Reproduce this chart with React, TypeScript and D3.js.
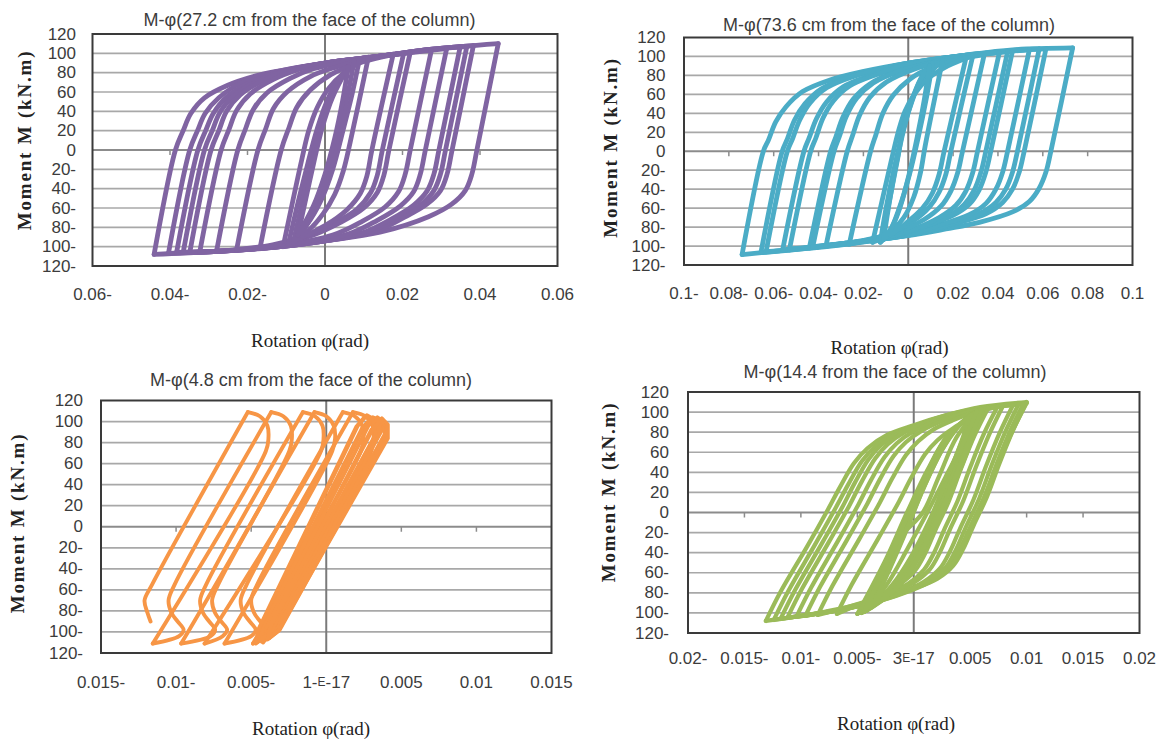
import React from "react";
import * as d3 from "d3";

type Pt = [number, number];

// ---------- shared axis data ----------
const momentTicks = [120, 100, 80, 60, 40, 20, 0, -20, -40, -60, -80, -100, -120];
const momentTickLabels = ["120", "100", "80", "60", "40", "20", "0", "20-", "40-", "60-", "80-", "100-", "120-"];

// ---------- panel 1 (27.2 cm) ----------
const purpleRotTicks = [-0.06, -0.04, -0.02, 0, 0.02, 0.04, 0.06];
const purpleRotLabels = ["0.06-", "0.04-", "0.02-", "0", "0.02", "0.04", "0.06"];
const purpleBranches: Pt[][] = [
  [[-0.0441,-108],[-0.0386,0],[-0.0366,20],[-0.0346,38],[-0.0311,54],[-0.0251,67],[-0.0185,76],[-0.0116,82],[0,90],[0.0142,97],[0.0271,104],[0.0447,110]],
  [[0.0447,110],[0.0392,0],[0.0379,-25],[0.0362,-42],[0.0327,-56],[0.0267,-69],[0.0142,-85],[0,-94],[-0.0116,-100],[-0.0288,-105],[-0.0441,-108]],
  [[-0.0404,-107],[-0.0349,0],[-0.0329,20],[-0.0309,38],[-0.0274,54],[-0.0214,70],[-0.0116,82],[0,90],[0.0142,97],[0.0271,104],[0.0383,108]],
  [[0.0383,108],[0.0328,0],[0.0315,-25],[0.0298,-42],[0.0263,-56],[0.0203,-70],[0.013,-84],[0,-94],[-0.0116,-100],[-0.0288,-105],[-0.0404,-107]],
  [[-0.0383,-106],[-0.0328,0],[-0.0308,20],[-0.0288,38],[-0.0253,55],[-0.0193,70],[-0.0116,81],[0,90],[0.0142,97],[0.0271,104],[0.0366,107]],
  [[0.0366,107],[0.0311,0],[0.0298,-25],[0.0281,-42],[0.0246,-57],[0.0186,-71],[0.011,-85],[0,-94],[-0.0116,-100],[-0.0288,-105],[-0.0383,-106]],
  [[-0.0366,-106],[-0.0311,0],[-0.0291,20],[-0.0271,39],[-0.0236,56],[-0.0176,71],[-0.011,81],[0,90],[0.0142,97],[0.0271,104],[0.0349,107]],
  [[0.0349,107],[0.0294,0],[0.0281,-25],[0.0264,-42],[0.0229,-57],[0.0169,-72],[0.0095,-86],[0,-94],[-0.0116,-100],[-0.0288,-105],[-0.0366,-106]],
  [[-0.0349,-106],[-0.0294,0],[-0.0274,20],[-0.0254,40],[-0.0219,57],[-0.0159,72],[-0.0095,82],[0,90],[0.0142,97],[0.0271,103],[0.0314,105]],
  [[0.0314,105],[0.0259,0],[0.0246,-25],[0.0229,-43],[0.0194,-58],[0.0134,-73],[0.006,-87],[-0.0116,-100],[-0.0288,-105],[-0.0349,-106]],
  [[-0.0323,-105],[-0.0268,0],[-0.0248,21],[-0.0228,41],[-0.0193,58],[-0.0133,73],[-0.007,83],[0,90],[0.0142,97],[0.0275,104]],
  [[0.0275,104],[0.022,0],[0.0207,-25],[0.019,-43],[0.0155,-59],[0.0095,-74],[0.002,-88],[-0.0116,-99],[-0.0288,-105],[-0.0323,-105]],
  [[-0.028,-105],[-0.0225,0],[-0.0205,22],[-0.0185,42],[-0.015,59],[-0.009,74],[-0.003,84],[0.006,92],[0.0142,97],[0.022,101]],
  [[0.022,101],[0.0165,0],[0.0152,-26],[0.0135,-44],[0.01,-60],[0.004,-75],[-0.003,-88],[-0.0116,-98],[-0.022,-103],[-0.028,-105]],
  [[-0.0228,-103],[-0.0173,0],[-0.0153,22],[-0.0133,43],[-0.0098,60],[-0.0038,76],[0.003,86],[0.0115,95],[0.0203,100]],
  [[0.0203,100],[0.0148,0],[0.0135,-26],[0.0118,-44],[0.0083,-61],[0.0023,-76],[-0.005,-89],[-0.0135,-98],[-0.0228,-103]],
  [[-0.0168,-102],[-0.0113,0],[-0.0093,23],[-0.0073,44],[-0.0038,62],[0.0015,78],[0.008,89],[0.0176,99]],
  [[0.0176,99],[0.0121,0],[0.0108,-27],[0.0091,-45],[0.0056,-62],[0.0001,-78],[-0.0065,-91],[-0.0168,-102]],
  [[-0.0108,-100],[-0.006,-10],[-0.0042,20],[-0.002,44],[0.001,64],[0.005,80],[0.0112,96]],
  [[0.0112,96],[0.0065,8],[0.0047,-22],[0.0025,-46],[-0.0005,-66],[-0.0045,-84],[-0.0108,-100]],
  [[-0.0095,-98],[-0.007,-55],[-0.0045,-15],[-0.002,22],[0.001,55],[0.0045,78],[0.0089,94]],
  [[0.0089,94],[0.007,58],[0.0045,18],[0.002,-20],[-0.001,-52],[-0.0048,-78],[-0.0095,-98]],
  [[-0.0082,-96],[-0.0062,-60],[-0.004,-22],[-0.0015,18],[0.0012,52],[0.004,75],[0.0075,92]],
  [[0.0075,92],[0.006,60],[0.0038,22],[0.0015,-16],[-0.0015,-50],[-0.0045,-76],[-0.0082,-96]],
  [[-0.007,-88],[-0.0052,-55],[-0.003,-15],[-0.0008,22],[0.002,55],[0.006,86]],
  [[0.006,86],[0.0045,50],[0.0025,12],[0,-25],[-0.003,-58],[-0.007,-88]],
];

// ---------- panel 2 (73.6 cm) ----------
const tealRotTicks = [-0.1, -0.08, -0.06, -0.04, -0.02, 0, 0.02, 0.04, 0.06, 0.08, 0.1];
const tealRotLabels = ["0.1-", "0.08-", "0.06-", "0.04-", "0.02-", "0", "0.02", "0.04", "0.06", "0.08", "0.1"];
const tealBranches: Pt[][] = [
  [[-0.0741,-109],[-0.0646,0],[-0.0623,12],[-0.0591,31],[-0.0545,47],[-0.0471,63],[-0.0352,75],[-0.0204,84],[0,93],[0.0242,101],[0.0465,107],[0.0733,109]],
  [[0.0733,109],[0.0636,0],[0.0614,-22],[0.0584,-39],[0.054,-53],[0.0465,-64],[0.0317,-75],[0.0168,-82],[0,-89],[-0.0278,-97],[-0.05,-103],[-0.0741,-109]],
  [[-0.0657,-107],[-0.0562,0],[-0.0539,13],[-0.0507,33],[-0.0461,50],[-0.0387,66],[-0.0267,78],[-0.012,87],[0,93],[0.0242,101],[0.0465,106],[0.0614,108]],
  [[0.0614,108],[0.0517,0],[0.0495,-22],[0.0465,-40],[0.0421,-54],[0.0346,-66],[0.0198,-77],[0.006,-86],[-0.015,-94],[-0.04,-101],[-0.0657,-107]],
  [[-0.0634,-106],[-0.0539,0],[-0.0516,13],[-0.0484,33],[-0.0438,51],[-0.0364,67],[-0.0244,79],[-0.011,87],[0,93],[0.0242,101],[0.045,106],[0.0584,108]],
  [[0.0584,108],[0.0487,0],[0.0465,-22],[0.0435,-40],[0.0391,-54],[0.0316,-66],[0.0168,-78],[0.003,-87],[-0.018,-95],[-0.042,-102],[-0.0634,-106]],
  [[-0.056,-104],[-0.0465,0],[-0.0442,14],[-0.041,34],[-0.0364,52],[-0.029,68],[-0.017,80],[-0.005,89],[0.01,96],[0.0242,101],[0.054,107]],
  [[0.054,107],[0.0443,0],[0.0421,-22],[0.0391,-40],[0.0347,-55],[0.0272,-67],[0.0124,-79],[-0.002,-89],[-0.0278,-97],[-0.056,-104]],
  [[-0.053,-104],[-0.0435,0],[-0.0412,14],[-0.038,35],[-0.0334,53],[-0.026,69],[-0.014,81],[-0.002,90],[0.012,97],[0.03,102],[0.0465,106]],
  [[0.0465,106],[0.0368,0],[0.0346,-22],[0.0316,-41],[0.0272,-56],[0.0197,-68],[0.0049,-81],[-0.01,-91],[-0.03,-98],[-0.053,-104]],
  [[-0.0441,-102],[-0.0346,0],[-0.0323,15],[-0.0291,36],[-0.0245,55],[-0.0171,71],[-0.0051,84],[0.006,91],[0.02,99],[0.0443,105]],
  [[0.0443,105],[0.0346,0],[0.0324,-22],[0.0294,-41],[0.025,-56],[0.0175,-69],[0.0027,-83],[-0.012,-92],[-0.028,-97],[-0.0441,-102]],
  [[-0.0426,-101],[-0.0331,0],[-0.0308,15],[-0.0276,37],[-0.023,56],[-0.0156,72],[-0.0036,85],[0.008,92],[0.022,99],[0.0406,104]],
  [[0.0406,104],[0.0309,0],[0.0287,-23],[0.0257,-42],[0.0213,-57],[0.0138,-70],[-0.001,-85],[-0.015,-93],[-0.0426,-101]],
  [[-0.0367,-100],[-0.0272,0],[-0.0249,16],[-0.0217,38],[-0.0171,57],[-0.0097,73],[0.002,86],[0.014,94],[0.0339,102]],
  [[0.0339,102],[0.0242,0],[0.022,-23],[0.019,-42],[0.0146,-58],[0.0071,-72],[-0.006,-86],[-0.02,-94],[-0.0367,-100]],
  [[-0.0263,-98],[-0.0168,0],[-0.0145,17],[-0.0113,40],[-0.0067,59],[0.0007,76],[0.01,88],[0.0287,100]],
  [[0.0287,100],[0.019,0],[0.0168,-24],[0.0138,-43],[0.0094,-59],[0.0019,-74],[-0.01,-88],[-0.0263,-98]],
  [[-0.0159,-96],[-0.0066,0],[-0.0045,20],[-0.0015,42],[0.003,61],[0.009,77],[0.016,88],[0.0257,98]],
  [[0.0257,98],[0.016,0],[0.0138,-24],[0.0108,-44],[0.0064,-60],[-0.001,-76],[-0.008,-88],[-0.0159,-96]],
  [[-0.012,-95],[-0.0045,-5],[-0.0025,22],[0.0005,48],[0.005,70],[0.0153,96]],
  [[0.0153,96],[0.0075,5],[0.0055,-22],[0.0025,-48],[-0.002,-70],[-0.012,-95]],
  [[-0.0125,-96],[-0.0095,-55],[-0.006,-15],[-0.002,25],[0.002,55],[0.006,78],[0.0108,93]],
  [[0.0108,93],[0.008,55],[0.0045,15],[0.0005,-25],[-0.004,-60],[-0.008,-83],[-0.0125,-96]],
  [[-0.011,-93],[-0.0085,-55],[-0.0055,-15],[-0.0018,25],[0.0018,55],[0.0055,76],[0.0095,90]],
  [[0.0095,90],[0.0072,55],[0.004,15],[0.0003,-25],[-0.0035,-58],[-0.0072,-80],[-0.011,-93]],
];

// ---------- panel 3 (4.8 cm) ----------
const orangeRotTicks = [-0.015, -0.01, -0.005, 0, 0.005, 0.01, 0.015];
const orangeRotLabels = ["0.015-", "0.01-", "0.005-", "1-E-17", "0.005", "0.01", "0.015"];
const orangeBranches: Pt[][] = [
  [[-0.0042,-110],[0.003,72],[0.00315,84],[0.0031,96],[0.0026,105],[0.00178,109]],
  [[0.00178,109],[-0.0046,-55],[-0.005,-70],[-0.0048,-82],[-0.0044,-90],[-0.004,-98],[-0.0043,-104],[-0.00488,-111]],
  [[-0.00488,-111],[0.0023,72],[0.00248,84],[0.0024,96],[0.0019,105],[0.00111,109]],
  [[0.00111,109],[-0.0053,-55],[-0.0057,-70],[-0.0055,-82],[-0.0051,-90],[-0.0047,-98],[-0.005,-104],[-0.00677,-111]],
  [[-0.00677,-111],[0.0004,72],[0.00059,84],[0.0005,96],[0,105],[-0.00078,109]],
  [[-0.00078,109],[-0.0072,-55],[-0.0076,-70],[-0.0074,-82],[-0.007,-90],[-0.0066,-98],[-0.0069,-104],[-0.0081,-111]],
  [[-0.0081,-111],[-0.00035,72],[-0.00018,84],[-0.00025,96],[-0.00075,105],[-0.00155,109]],
  [[-0.00155,109],[-0.008,-55],[-0.0084,-70],[-0.0082,-82],[-0.0078,-90],[-0.0074,-98],[-0.0077,-104],[-0.00966,-111]],
  [[-0.00966,-111],[-0.00246,72],[-0.00229,84],[-0.00236,96],[-0.00286,105],[-0.00366,109]],
  [[-0.00366,109],[-0.0101,-55],[-0.0105,-70],[-0.0103,-82],[-0.0099,-90],[-0.0095,-98],[-0.0098,-104],[-0.01155,-111]],
  [[-0.01155,-111],[-0.00402,72],[-0.00385,84],[-0.00392,96],[-0.00442,105],[-0.00522,109]],
  [[-0.00522,109],[-0.0116,-55],[-0.0121,-70],[-0.0119,-82],[-0.0117,-90]],
];
const orangeCoreLoops: Pt[][] = [
  [[-0.0046,-110],[-0.0039,-102],[0.0034,90],[0.0032,102],[0.0027,106],[0.0021,96],[-0.0044,-96],[-0.0046,-110]],
  [[-0.0043,-109],[-0.0036,-101],[0.0037,92],[0.0036,101],[0.0031,104],[0.0025,95],[-0.0041,-95],[-0.0043,-109]],
  [[-0.0041,-108],[-0.0034,-100],[0.0039,88],[0.0038,100],[0.0034,104],[0.0028,96],[-0.0039,-94],[-0.0041,-108]],
  [[-0.0038,-106],[-0.0031,-98],[0.004,85],[0.004,96],[0.0036,101],[0.003,92],[-0.0036,-92],[-0.0038,-106]],
  [[-0.0044,-108],[-0.0037,-100],[0.0036,90],[0.0035,100],[0.003,103],[0.0024,94],[-0.0042,-94],[-0.0044,-108]],
  [[-0.0047,-111],[-0.004,-103],[0.0033,88],[0.0031,101],[0.0026,105],[0.002,95],[-0.0045,-97],[-0.0047,-111]],
  [[-0.0039,-107],[-0.0032,-99],[0.0041,84],[0.0041,97],[0.0037,103],[0.0031,93],[-0.0037,-93],[-0.0039,-107]],
];

// ---------- panel 4 (14.4) ----------
const greenRotTicks = [-0.02, -0.015, -0.01, -0.005, 0, 0.005, 0.01, 0.015, 0.02];
const greenRotLabels = ["0.02-", "0.015-", "0.01-", "0.005-", "3E-17", "0.005", "0.01", "0.015", "0.02"];
const greenBranches: Pt[][] = [
  [[-0.0131,-108],[-0.0118,-79],[-0.0094,-33],[-0.0076,3],[-0.0065,26],[-0.0053,49],[-0.0041,64],[-0.0024,77],[0,87],[0.0029,97],[0.0059,105],[0.01,110]],
  [[0.01,110],[0.0088,82],[0.0076,49],[0.0065,16],[0.0053,-13],[0.0044,-36],[0.0035,-53],[0.0021,-66],[0,-76],[-0.0029,-87],[-0.0065,-97],[-0.01,-103],[-0.0131,-108]],
  [[-0.0124,-107],[-0.0111,-78],[-0.0087,-31],[-0.0069,5],[-0.0058,28],[-0.0046,51],[-0.0034,66],[-0.0018,78],[0.0005,88],[0.0031,97],[0.0059,104],[0.01,109]],
  [[0.01,109],[0.0087,80],[0.0074,47],[0.0062,14],[0.005,-15],[0.0041,-37],[0.0031,-54],[0.0017,-67],[-0.0004,-77],[-0.0031,-87],[-0.0066,-97],[-0.01,-103],[-0.0124,-107]],
  [[-0.0118,-106],[-0.0105,-77],[-0.0081,-30],[-0.0063,6],[-0.0052,30],[-0.004,53],[-0.0029,67],[-0.0013,79],[0.0008,89],[0.0033,98],[0.006,104],[0.0097,108]],
  [[0.0097,108],[0.0085,80],[0.0073,47],[0.0062,14],[0.005,-15],[0.0041,-37],[0.0032,-54],[0.0018,-67],[-0.0003,-78],[-0.003,-88],[-0.0066,-97],[-0.0095,-102],[-0.0118,-106]],
  [[-0.0112,-105],[-0.0099,-76],[-0.0075,-29],[-0.0057,7],[-0.0046,31],[-0.0034,54],[-0.0023,68],[-0.0008,80],[0.0012,90],[0.0035,98],[0.0062,104],[0.0093,108]],
  [[0.0093,108],[0.0081,80],[0.0069,47],[0.0058,14],[0.0046,-15],[0.0037,-38],[0.0028,-55],[0.0014,-68],[-0.0007,-79],[-0.0033,-89],[-0.0066,-97],[-0.0112,-105]],
  [[-0.0104,-104],[-0.0091,-75],[-0.0067,-28],[-0.0049,8],[-0.0038,32],[-0.0026,55],[-0.0015,69],[0,81],[0.0018,90],[0.004,98],[0.0064,104],[0.0088,107]],
  [[0.0088,107],[0.0076,79],[0.0064,46],[0.0053,13],[0.0041,-16],[0.0032,-39],[0.0023,-56],[0.0009,-69],[-0.0012,-80],[-0.0038,-90],[-0.007,-98],[-0.0104,-104]],
  [[-0.0096,-103],[-0.0083,-74],[-0.0059,-27],[-0.0041,9],[-0.003,33],[-0.0018,56],[-0.0007,70],[0.0008,82],[0.0025,91],[0.0045,99],[0.0079,106]],
  [[0.0079,106],[0.0067,78],[0.0055,45],[0.0044,12],[0.0032,-17],[0.0023,-40],[0.0014,-57],[0,-70],[-0.0021,-81],[-0.0047,-91],[-0.0075,-98],[-0.0096,-103]],
  [[-0.0085,-102],[-0.0072,-73],[-0.0048,-26],[-0.003,10],[-0.0019,34],[-0.0007,57],[0.0004,71],[0.0018,83],[0.0035,92],[0.0052,99],[0.0074,105]],
  [[0.0074,105],[0.0062,78],[0.005,45],[0.0039,12],[0.0027,-17],[0.0018,-40],[0.0009,-57],[-0.0005,-71],[-0.0026,-82],[-0.0052,-92],[-0.0085,-102]],
  [[-0.0068,-101],[-0.0055,-72],[-0.0031,-25],[-0.0013,11],[-0.0002,35],[0.001,58],[0.0021,72],[0.0035,84],[0.005,94],[0.0066,104]],
  [[0.0066,104],[0.0054,77],[0.0042,44],[0.0031,11],[0.0019,-18],[0.001,-41],[0.0001,-58],[-0.0013,-72],[-0.0034,-84],[-0.0068,-101]],
  [[-0.005,-101],[-0.004,-80],[-0.0024,-45],[-0.0006,0],[0.0012,42],[0.003,76],[0.0062,104]],
  [[0.0062,104],[0.0054,80],[0.0042,45],[0.0027,5],[0.0008,-38],[-0.0012,-72],[-0.005,-101]],
  [[-0.0046,-100],[-0.0035,-75],[-0.0018,-35],[0,10],[0.0017,50],[0.0034,80],[0.0058,102]],
  [[0.0058,102],[0.005,78],[0.0037,40],[0.0022,0],[0.0004,-42],[-0.0016,-75],[-0.0046,-100]],
  [[-0.0044,-99],[-0.0033,-72],[-0.0015,-30],[0.0003,15],[0.002,55],[0.0036,82],[0.0056,101]],
  [[0.0056,101],[0.0048,76],[0.0034,38],[0.0019,-5],[0.0001,-46],[-0.0018,-78],[-0.0044,-99]],
  [[-0.0042,-98],[-0.003,-70],[-0.0012,-25],[0.0005,20],[0.0022,60],[0.0038,85],[0.0055,100]],
  [[0.0055,100],[0.0046,75],[0.0032,35],[0.0016,-10],[-0.0002,-50],[-0.002,-80],[-0.0042,-98]],
  [[-0.0038,-95],[-0.0026,-68],[-0.0008,-22],[0.0009,25],[0.0025,62],[0.004,86],[0.0052,98]],
  [[0.0052,98],[0.0043,72],[0.0028,30],[0.0012,-15],[-0.0006,-55],[-0.0022,-80],[-0.0038,-95]],
  [[-0.0036,-92],[-0.0024,-62],[-0.0006,-15],[0.0011,30],[0.0027,66],[0.0041,88],[0.005,97]],
  [[0.005,97],[0.0042,70],[0.003,35],[0.0015,-5],[-0.0003,-45],[-0.0019,-72],[-0.0036,-92]],
  [[-0.0048,-100],[-0.0038,-78],[-0.002,-38],[-0.0002,5],[0.0014,45],[0.0031,78],[0.006,103]],
  [[0.006,103],[0.0052,79],[0.0039,42],[0.0024,2],[0.0006,-40],[-0.0014,-74],[-0.0048,-100]],
  [[-0.0044,-99],[-0.0031,-68],[-0.0012,-25],[0.0008,0],[0.0022,35],[0.0038,75],[0.0056,101]],
  [[0.0056,101],[0.0044,70],[0.0028,35],[0.0012,0],[-0.0005,-35],[-0.0024,-72],[-0.0044,-99]],
];

// ---------- layout / style (kept apart from the data) ----------
const SANS = "'Liberation Sans', Arial, sans-serif";
const SERIF = "'Liberation Serif', 'Times New Roman', serif";

type PanelCfg = {
  left: number; right: number; top: number; bottom: number;
  xDomain: [number, number];
  xTicks: number[]; xLabels: string[];
  branches: Pt[][]; linearLoops?: Pt[][];
  color: string; sw: number;
  title: string; titleX: number; titleY: number;
  yTitleX: number; yTitleY: number;
  xTitleX: number; xTitleY: number;
  yLabelRight: number; xLabelY: number;
};

const panels: PanelCfg[] = [
  {
    left: 92.5, right: 557.5, top: 34, bottom: 266, xDomain: [-0.06, 0.06],
    xTicks: purpleRotTicks, xLabels: purpleRotLabels, branches: purpleBranches,
    color: "#8064a2", sw: 4.8,
    title: "M-φ(27.2 cm from the face of the column)", titleX: 309.5, titleY: 20,
    yTitleX: 24, yTitleY: 140, xTitleX: 310, xTitleY: 340, yLabelRight: 76, xLabelY: 294,
  },
  {
    left: 684, right: 1132.5, top: 37.5, bottom: 265, xDomain: [-0.1, 0.1],
    xTicks: tealRotTicks, xLabels: tealRotLabels, branches: tealBranches,
    color: "#4bacc6", sw: 4.8,
    title: "M-φ(73.6 cm from the face of the column)", titleX: 889, titleY: 25,
    yTitleX: 610, yTitleY: 147.5, xTitleX: 889.5, xTitleY: 347, yLabelRight: 665.5, xLabelY: 293,
  },
  {
    left: 101, right: 551.5, top: 400.5, bottom: 653, xDomain: [-0.015, 0.015],
    xTicks: orangeRotTicks, xLabels: orangeRotLabels, branches: orangeBranches, linearLoops: orangeCoreLoops,
    color: "#f79646", sw: 3.9,
    title: "M-φ(4.8 cm from the face of the column)", titleX: 311, titleY: 380,
    yTitleX: 17, yTitleY: 523, xTitleX: 311, xTitleY: 728, yLabelRight: 83, xLabelY: 682,
  },
  {
    left: 688, right: 1139.5, top: 392, bottom: 633, xDomain: [-0.02, 0.02],
    xTicks: greenRotTicks, xLabels: greenRotLabels, branches: greenBranches,
    color: "#9bbb59", sw: 4.2,
    title: "M-φ(14.4 from the face of the column)", titleX: 895, titleY: 372,
    yTitleX: 608, yTitleY: 492, xTitleX: 896, xTitleY: 723, yLabelRight: 669, xLabelY: 658,
  },
];

function TickLabel({ text, x, y }: { text: string; x: number; y: number }) {
  const i = text.indexOf("E");
  if (i < 0) {
    return (
      <text x={x} y={y} textAnchor="middle" dominantBaseline="central" fontFamily={SANS} fontSize={17} fill="#3c3c3c">
        {text}
      </text>
    );
  }
  return (
    <text x={x} y={y} textAnchor="middle" dominantBaseline="central" fontFamily={SANS} fontSize={17} fill="#3c3c3c">
      {text.slice(0, i)}
      <tspan fontSize={12}>E</tspan>
      {text.slice(i + 1)}
    </text>
  );
}

function Panel({ cfg }: { cfg: PanelCfg }) {
  const x = d3.scaleLinear().domain(cfg.xDomain).range([cfg.left, cfg.right]);
  const y = d3.scaleLinear().domain([-120, 120]).range([cfg.bottom, cfg.top]);
  const smooth = d3.line<Pt>().x((d) => x(d[0])).y((d) => y(d[1])).curve(d3.curveCatmullRom.alpha(0.5));
  const straight = d3.line<Pt>().x((d) => x(d[0])).y((d) => y(d[1]));
  const inner = cfg.xTicks.slice(1, -1).filter((t) => t !== 0);

  return (
    <g>
      {momentTicks.filter((t) => t !== 120 && t !== -120 && t !== 0).map((t) => (
        <line key={"g" + t} x1={cfg.left} x2={cfg.right} y1={y(t)} y2={y(t)} stroke="#a8a8a8" strokeWidth={1.7} />
      ))}
      <line x1={cfg.left} x2={cfg.right} y1={y(0)} y2={y(0)} stroke="#8c8c8c" strokeWidth={1.8} />
      {inner.map((t) => (
        <line key={"t" + t} x1={x(t)} x2={x(t)} y1={y(0)} y2={y(0) + 5} stroke="#8c8c8c" strokeWidth={1.5} />
      ))}
      <line x1={x(0)} x2={x(0)} y1={cfg.top} y2={cfg.bottom} stroke="#7a7a7a" strokeWidth={2} />
      <rect x={cfg.left} y={cfg.top} width={cfg.right - cfg.left} height={cfg.bottom - cfg.top}
        fill="none" stroke="#3a3a3a" strokeWidth={2} />

      {cfg.branches.map((b, i) => (
        <path key={"b" + i} d={smooth(b) || ""} fill="none" stroke={cfg.color} strokeWidth={cfg.sw}
          strokeLinejoin="round" strokeLinecap="round" />
      ))}
      {(cfg.linearLoops || []).map((b, i) => (
        <path key={"c" + i} d={straight(b) || ""} fill="none" stroke={cfg.color} strokeWidth={cfg.sw}
          strokeLinejoin="round" strokeLinecap="round" />
      ))}

      {momentTicks.map((t, i) => (
        <text key={"yl" + t} x={cfg.yLabelRight} y={y(t)} textAnchor="end" dominantBaseline="central"
          fontFamily={SANS} fontSize={17} fill="#3c3c3c">
          {momentTickLabels[i]}
        </text>
      ))}
      {cfg.xTicks.map((t, i) => (
        <TickLabel key={"xl" + i} text={cfg.xLabels[i]} x={x(t)} y={cfg.xLabelY} />
      ))}

      <text x={cfg.titleX} y={cfg.titleY} textAnchor="middle" dominantBaseline="central"
        fontFamily={SANS} fontSize={18} fill="#3c3c3c">
        {cfg.title}
      </text>
      <text x={cfg.yTitleX} y={cfg.yTitleY} textAnchor="middle" dominantBaseline="central"
        transform={`rotate(-90 ${cfg.yTitleX} ${cfg.yTitleY})`}
        fontFamily={SERIF} fontSize={19} fontWeight="bold" letterSpacing={1.8} fill="#222">
        Moment M (kN.m)
      </text>
      <text x={cfg.xTitleX} y={cfg.xTitleY} textAnchor="middle" dominantBaseline="central"
        fontFamily={SERIF} fontSize={19} fill="#222">
        Rotation φ(rad)
      </text>
    </g>
  );
}

export default function App() {
  return (
    <svg width={1163} height={740} viewBox="0 0 1163 740"
      style={{ position: "absolute", left: 0, top: 0, background: "#ffffff" }}>
      <rect x={0} y={0} width={1163} height={740} fill="#ffffff" />
      {panels.map((p, i) => (
        <Panel key={i} cfg={p} />
      ))}
    </svg>
  );
}
